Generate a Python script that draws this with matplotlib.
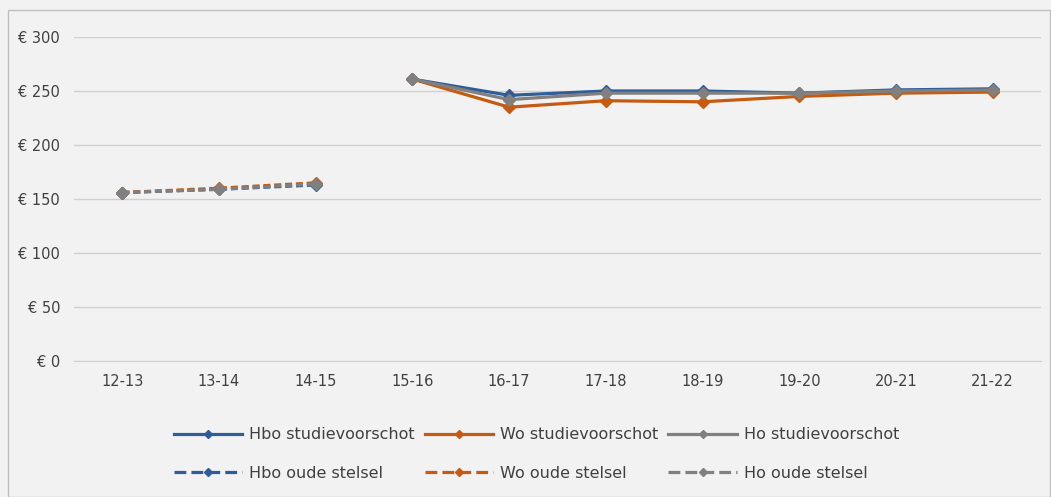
import numpy as np
import matplotlib
matplotlib.use("Agg")
import matplotlib.pyplot as plt
from matplotlib.patches import Rectangle
from matplotlib.lines import Line2D

categories = ["12-13", "13-14", "14-15", "15-16", "16-17", "17-18", "18-19", "19-20", "20-21", "21-22"]

# studievoorschot (from 15-16)
hbo_new = [None, None, None, 261, 246, 250, 250, 248, 251, 252]
wo_new = [None, None, None, 261, 235, 241, 240, 245, 248, 249]
ho_new = [None, None, None, 261, 242, 248, 248, 248, 250, 251]

# oude stelsel (up to 14-15)
hbo_old = [156, 159, 163, None, None, None, None, None, None, None]
wo_old = [156, 160, 165, None, None, None, None, None, None, None]
ho_old = [156, 159, 164, None, None, None, None, None, None, None]

yticks = [0, 50, 100, 150, 200, 250, 300]
ytick_labels = ["€ 0", "€ 50", "€ 100", "€ 150", "€ 200", "€ 250", "€ 300"]

COL_HBO = "#2E5D97"
COL_WO = "#C55A11"
COL_HO = "#808080"
BG = "#F2F2F2"
TXT = "#404040"


def _plot_safe(ax, x, y, **kwargs):
    xx, yy = [], []
    for a, b in zip(x, y):
        if b is not None:
            xx.append(a)
            yy.append(b)
    return ax.plot(xx, yy, **kwargs)[0]


fig = plt.figure(figsize=(10.51, 4.97), dpi=100, facecolor=BG)
fig.patches.append(Rectangle((8 / 1051, 0), 1 - 9 / 1051, 1 - 10 / 497, transform=fig.transFigure,
                             fill=False, edgecolor="#BFBFBF", linewidth=1.0))
ax = fig.add_axes([74 / 1051, 1 - 361 / 497, (1041 - 74) / 1051, 324 / 497])
ax.set_facecolor(BG)

x = np.arange(len(categories))
common = dict(marker="D", markersize=6.5, linewidth=2.3)
dash = (0, (2.2, 1.2))

h_hbo = _plot_safe(ax, x, hbo_new, color=COL_HBO, label="Hbo studievoorschot", **common)
h_wo = _plot_safe(ax, x, wo_new, color=COL_WO, label="Wo studievoorschot", **common)
h_ho = _plot_safe(ax, x, ho_new, color=COL_HO, label="Ho studievoorschot", **common)
h_hbo_o = _plot_safe(ax, x, hbo_old, color=COL_HBO, linestyle=dash, label="Hbo oude stelsel", **common)
h_wo_o = _plot_safe(ax, x, wo_old, color=COL_WO, linestyle=dash, label="Wo oude stelsel", **common)
h_ho_o = _plot_safe(ax, x, ho_old, color=COL_HO, linestyle=dash, label="Ho oude stelsel", **common)

ax.set_xlim(-0.5, len(categories) - 0.5)
ax.set_ylim(0, 300)
ax.set_yticks(yticks)
ax.set_yticklabels(ytick_labels)
ax.set_xticks(x)
ax.set_xticklabels(categories)
ax.yaxis.grid(True, color="#D0D0D0", linewidth=1.0)
ax.set_axisbelow(True)
for s in ["top", "right", "left"]:
    ax.spines[s].set_visible(False)
ax.spines["bottom"].set_color("#D0D0D0")
ax.tick_params(axis="both", length=0, labelsize=10.5, colors=TXT, pad=10)
ax.tick_params(axis="x", pad=9)

# legend fills column by column, so order as (row1, row2) per column
order = [h_hbo, h_hbo_o, h_wo, h_wo_o, h_ho, h_ho_o]
leg_handles = [Line2D([0], [0], color=h.get_color(), linestyle=h.get_linestyle(), linewidth=2.3,
                      marker="D", markersize=4.5) for h in order]
fig.legend(leg_handles, [h.get_label() for h in order], loc="center", ncol=3,
           bbox_to_anchor=(0.5105, 1 - 454 / 497), frameon=False, fontsize=11.5,
           labelcolor=TXT, handlelength=4.3, handletextpad=0.45, columnspacing=0.6,
           labelspacing=1.45)

fig.savefig("out.png", dpi=100, facecolor=BG)
